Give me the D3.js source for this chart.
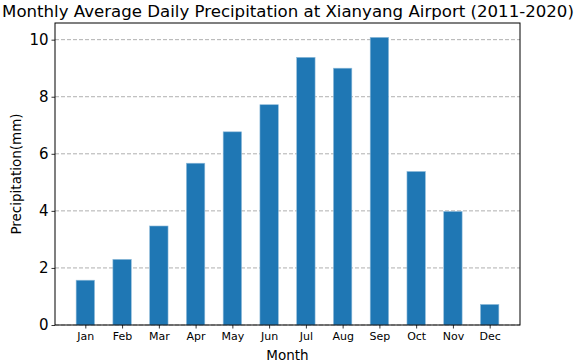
<!DOCTYPE html>
<html>
<head>
<meta charset="utf-8">
<script src="https://cdn.jsdelivr.net/npm/d3@7"></script>
<style>
  body { margin: 0; background: #fff; }
  svg { display: block; font-family: "DejaVu Sans", sans-serif; }
</style>
</head>
<body>
<div id="chart"></div>
<script>
const months = ["Jan", "Feb", "Mar", "Apr", "May", "Jun", "Jul", "Aug", "Sep", "Oct", "Nov", "Dec"];
const precip = [1.57, 2.30, 3.47, 5.67, 6.77, 7.72, 9.38, 9.00, 10.08, 5.38, 3.98, 0.72];
const yTicks = [0, 2, 4, 6, 8, 10];

const width = 576, height = 364;
const margin = {top: 23, right: 56, bottom: 39, left: 55};
const plotW = width - margin.left - margin.right;
const plotH = height - margin.top - margin.bottom;

const svg = d3.select("#chart").append("svg")
    .attr("width", width)
    .attr("height", height);

const g = svg.append("g").attr("transform", "translate(" + margin.left + "," + margin.top + ")");

// matplotlib-like autoscale: bars from -0.25..11.25 with 5% padding
const x = d3.scaleLinear()
    .domain([-0.25 - 0.575, 11.25 + 0.575])
    .range([0, plotW]);

const yMax = d3.max(precip) * 1.05;
const y = d3.scaleLinear()
    .domain([0, yMax])
    .range([plotH, 0]);

// grid
g.append("g")
    .selectAll("line")
    .data(yTicks)
    .join("line")
    .attr("x1", 0).attr("x2", plotW)
    .attr("y1", function(d) { return y(d); })
    .attr("y2", function(d) { return y(d); })
    .attr("stroke", "#b0b0b0")
    .attr("stroke-width", 1)
    .attr("stroke-dasharray", "4,2");

// bars
g.append("g")
    .selectAll("rect")
    .data(precip)
    .join("rect")
    .attr("x", function(d, i) { return x(i - 0.25); })
    .attr("width", x(0.5) - x(0))
    .attr("y", function(d) { return y(d); })
    .attr("height", function(d) { return plotH - y(d); })
    .attr("fill", "#1f77b4")
    .attr("stroke", "#8fbbda")
    .attr("stroke-width", 0.6);

// axes
const yAxis = d3.axisLeft(y).tickValues(yTicks).tickSize(3.5).tickPadding(3).tickFormat(d3.format("d"));
const yG = g.append("g").call(yAxis);
yG.select(".domain").remove();
yG.selectAll("text").attr("font-size", "15px").attr("fill", "#000").attr("font-family", "DejaVu Sans");
yG.selectAll("line").attr("stroke", "#000").attr("stroke-width", 0.8);

const xAxis = d3.axisBottom(x).tickValues(d3.range(months.length)).tickSize(3.5).tickPadding(4)
    .tickFormat(function(i) { return months[i]; });
const xG = g.append("g").attr("transform", "translate(0," + plotH + ")").call(xAxis);
xG.select(".domain").remove();
xG.selectAll("text").attr("font-size", "11px").attr("fill", "#000").attr("font-family", "DejaVu Sans");
xG.selectAll("line").attr("stroke", "#000").attr("stroke-width", 0.8);

// frame
g.append("rect")
    .attr("width", plotW).attr("height", plotH)
    .attr("fill", "none")
    .attr("stroke", "#000")
    .attr("stroke-width", 1);

// labels
svg.append("text")
    .attr("x", width / 2)
    .attr("y", 17)
    .attr("text-anchor", "middle")
    .attr("font-size", "16.6px")
    .text("Monthly Average Daily Precipitation at Xianyang Airport (2011-2020)");

svg.append("text")
    .attr("x", margin.left + plotW / 2)
    .attr("y", 360)
    .attr("text-anchor", "middle")
    .attr("font-size", "13.5px")
    .text("Month");

svg.append("text")
    .attr("transform", "translate(21," + (margin.top + plotH / 2) + ") rotate(-90)")
    .attr("text-anchor", "middle")
    .attr("font-size", "13.5px")
    .text("Precipitation(mm)");
</script>
</body>
</html>
